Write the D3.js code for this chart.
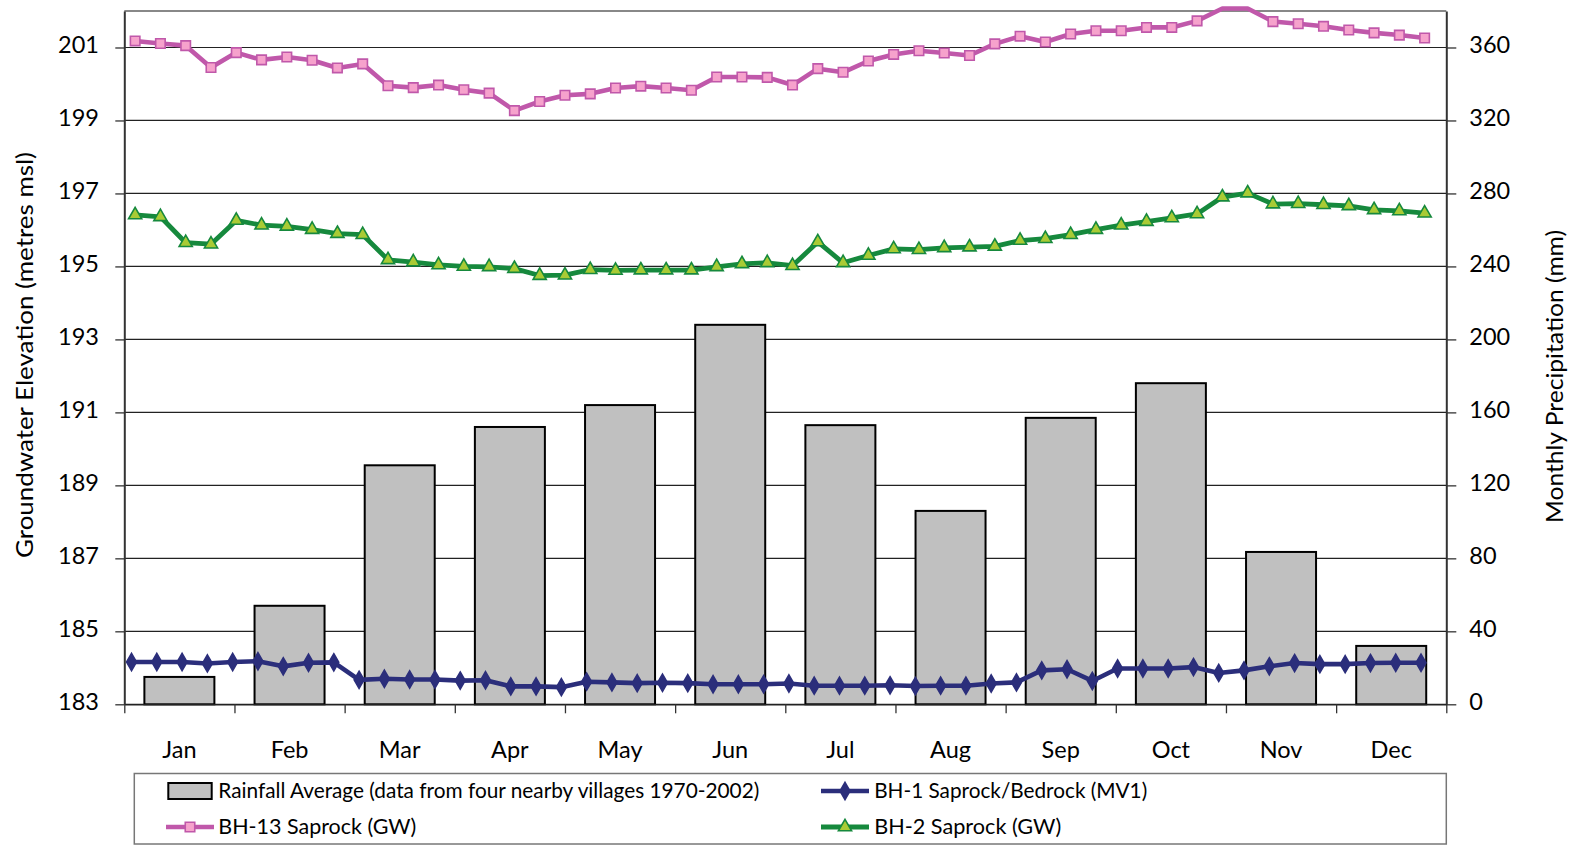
<!DOCTYPE html>
<html>
<head>
<meta charset="utf-8">
<script src="https://cdn.jsdelivr.net/npm/d3@7"></script>
<style>
  body { margin: 0; background: #fff; }
  svg { display: block; }
  text { font-family: Lato, "Open Sans", sans-serif; fill: #000; }
</style>
</head>
<body>
<svg id="chart" width="1585" height="849"></svg>
<script>
// ---- data -------------------------------------------------------------
const months = ["Jan", "Feb", "Mar", "Apr", "May", "Jun", "Jul", "Aug", "Sep", "Oct", "Nov", "Dec"];

// average monthly rainfall (mm), four nearby villages 1970-2002
const rainfall = [15, 54, 131, 152, 164, 208, 153, 106, 157, 176, 83.5, 32];

// weekly groundwater elevations (metres msl)
const bh1Level = [
  184.16, 184.16, 184.16, 184.12, 184.16, 184.18, 184.04, 184.14, 184.15, 183.67,
  183.70, 183.68, 183.68, 183.65, 183.66, 183.49, 183.49, 183.47, 183.62, 183.60,
  183.58, 183.59, 183.58, 183.55, 183.55, 183.55, 183.57, 183.51, 183.51, 183.51,
  183.52, 183.50, 183.51, 183.51, 183.57, 183.60, 183.93, 183.96, 183.64, 183.98,
  183.98, 183.98, 184.02, 183.86, 183.93, 184.04, 184.13, 184.10, 184.10, 184.13,
  184.14, 184.14
];
const bh13Level = [
  201.18, 201.11, 201.05, 200.45, 200.86, 200.66, 200.74, 200.65, 200.44, 200.55,
  199.95, 199.90, 199.97, 199.84, 199.75, 199.27, 199.52, 199.69, 199.73, 199.89,
  199.94, 199.89, 199.83, 200.19, 200.19, 200.18, 199.97, 200.42, 200.32, 200.63,
  200.81, 200.91, 200.85, 200.78, 201.10, 201.31, 201.15, 201.37, 201.46, 201.46,
  201.55, 201.55, 201.73, 202.30, 202.15, 201.71, 201.65, 201.58, 201.48, 201.40,
  201.34, 201.26
];
const bh2Level = [
  196.41, 196.36, 195.65, 195.61, 196.26, 196.13, 196.10, 196.01, 195.90, 195.87,
  195.18, 195.12, 195.04, 195.00, 194.99, 194.94, 194.75, 194.76, 194.91, 194.89,
  194.90, 194.90, 194.90, 194.99, 195.07, 195.10, 195.02, 195.67, 195.10, 195.30,
  195.48, 195.46, 195.51, 195.53, 195.55, 195.71, 195.76, 195.87, 196.01, 196.13,
  196.23, 196.33, 196.44, 196.90, 197.01, 196.71, 196.72, 196.69, 196.66, 196.55,
  196.52, 196.46
];

// first weekly reading of each well
const bh1Start = new Date(2004, 0, 3);
const gwStart = new Date(2004, 0, 4);

const levelTicks = [183, 185, 187, 189, 191, 193, 195, 197, 199, 201];
const rainTicks = [0, 40, 80, 120, 160, 200, 240, 280, 320, 360];

const labels = {
  rain: "Rainfall Average (data from four nearby villages 1970-2002)",
  bh1: "BH-1 Saprock/Bedrock (MV1)",
  bh13: "BH-13 Saprock (GW)",
  bh2: "BH-2 Saprock (GW)",
  yLeft: "Groundwater Elevation (metres msl)",
  yRight: "Monthly Precipitation (mm)"
};

// ---- layout & scales --------------------------------------------------
const plot = { left: 124.3, right: 1446.3, top: 11, bottom: 704.3 };
const svg = d3.select("#chart");

const xBand = d3.scaleBand().domain(months).range([plot.left, plot.right])
  .paddingInner(0.3646).paddingOuter(0.1823);
const xEdge = d3.scaleLinear().domain([0, months.length]).range([plot.left, plot.right]);
const xTime = d3.scaleTime().domain([new Date(2004, 0, 1), new Date(2005, 0, 1)])
  .range([plot.left, plot.right]);
const yLevel = d3.scaleLinear().domain([183, 202]).range([plot.bottom, plot.top]);
const yRain = d3.scaleLinear().domain([0, 380]).range([plot.bottom, plot.top]);

// ---- gridlines --------------------------------------------------------
svg.append("g").selectAll("line").data(levelTicks).join("line")
  .attr("x1", plot.left).attr("x2", plot.right)
  .attr("y1", d => yLevel(d)).attr("y2", d => yLevel(d))
  .attr("stroke", "#222").attr("stroke-width", 1.2);

// top edge of the plot area
svg.append("line")
  .attr("x1", plot.left).attr("x2", plot.right)
  .attr("y1", plot.top).attr("y2", plot.top)
  .attr("stroke", "#888").attr("stroke-width", 2);

// ---- rainfall bars ----------------------------------------------------
svg.append("g").selectAll("rect").data(rainfall).join("rect")
  .attr("x", (d, i) => xBand(months[i]))
  .attr("width", xBand.bandwidth())
  .attr("y", d => yRain(d))
  .attr("height", d => yRain(0) - yRain(d))
  .attr("fill", "#C0C0C0").attr("stroke", "#000").attr("stroke-width", 2);

// ---- axes -------------------------------------------------------------
function styleAxis(g, size) {
  g.attr("font-family", "Lato, 'Open Sans', sans-serif").attr("font-size", size);
  g.selectAll(".tick line").attr("stroke", "#333").attr("stroke-width", 1.3);
  g.selectAll("text").attr("fill", "#000");
}

const axLeft = svg.append("g").attr("transform", `translate(${plot.left},0)`)
  .call(d3.axisLeft(yLevel).tickValues(levelTicks).tickSize(9).tickSizeOuter(0)
    .tickPadding(16.3).tickFormat(d3.format("d")));
styleAxis(axLeft, 23.5);
axLeft.select(".domain").attr("stroke", "#333").attr("stroke-width", 2);
axLeft.selectAll("text").attr("dy", "0.2em");

const axRight = svg.append("g").attr("transform", `translate(${plot.right},0)`)
  .call(d3.axisRight(yRain).tickValues(rainTicks).tickSize(10).tickSizeOuter(0)
    .tickPadding(13).tickFormat(d3.format("d")));
styleAxis(axRight, 23.5);
axRight.select(".domain").attr("stroke", "#333").attr("stroke-width", 2);
axRight.selectAll("text").attr("dy", "0.2em");

const axEdges = svg.append("g").attr("transform", `translate(0,${plot.bottom})`)
  .call(d3.axisBottom(xEdge).tickValues(d3.range(months.length + 1)).tickSize(9)
    .tickSizeOuter(0).tickFormat(""));
styleAxis(axEdges, 23);
axEdges.select(".domain").attr("stroke", "#222").attr("stroke-width", 1.5);

const axMonths = svg.append("g").attr("transform", `translate(0,${plot.bottom})`)
  .call(d3.axisBottom(xBand).tickSize(0).tickPadding(37.1));
styleAxis(axMonths, 23.5);
axMonths.select(".domain").remove();

// ---- groundwater series -----------------------------------------------
const yTopLimit = plot.top - 2.5;
const yClamped = v => Math.max(yLevel(v), yTopLimit);

function series(values, start) {
  return values.map((v, i) => ({ date: d3.timeDay.offset(start, 7 * i), value: v }));
}

const wells = [
  { key: "bh13", data: series(bh13Level, gwStart), line: "#C058AA", fill: "#F6A2CC",
    symbol: d3.symbolSquare, size: 90, width: 4.6 },
  { key: "bh2", data: series(bh2Level, gwStart), line: "#16893D", fill: "#A9CB35",
    symbol: d3.symbolTriangle, size: 75, width: 4.8 },
  { key: "bh1", data: series(bh1Level, bh1Start), line: "#2B2E7B", fill: "#2B2E7B",
    symbol: d3.symbolDiamond, size: 85, width: 4.6 }
];

const lineGen = d3.line().x(d => xTime(d.date)).y(d => yClamped(d.value));

wells.forEach(w => {
  const g = svg.append("g").attr("class", "well-" + w.key);
  g.append("path").datum(w.data)
    .attr("d", lineGen)
    .attr("fill", "none").attr("stroke", w.line)
    .attr("stroke-width", w.width).attr("stroke-linejoin", "round");
  g.selectAll("path.marker").data(w.data.filter(d => d.value <= yLevel.domain()[1]))
    .join("path").attr("class", "marker")
    .attr("transform", d => `translate(${xTime(d.date)},${yLevel(d.value)})`)
    .attr("d", d3.symbol(w.symbol, w.size))
    .attr("fill", w.fill).attr("stroke", w.line).attr("stroke-width", 1.6);
});

// ---- axis titles ------------------------------------------------------
svg.append("text")
  .attr("transform", "translate(33,355) rotate(-90)")
  .attr("text-anchor", "middle").attr("font-size", 24)
  .attr("textLength", 406).attr("lengthAdjust", "spacingAndGlyphs")
  .text(labels.yLeft);

svg.append("text")
  .attr("transform", "translate(1563,376.5) rotate(-90)")
  .attr("text-anchor", "middle").attr("font-size", 24)
  .attr("textLength", 293).attr("lengthAdjust", "spacingAndGlyphs")
  .text(labels.yRight);

// ---- legend -----------------------------------------------------------
const legend = svg.append("g").attr("class", "legend");
legend.append("rect")
  .attr("x", 134.3).attr("y", 773.5).attr("width", plot.right - 134.3).attr("height", 70.5)
  .attr("fill", "#fff").attr("stroke", "#777").attr("stroke-width", 1.5);

const rows = [791, 827];
const cols = [166, 821];
const textX = [218.3, 874.2];

// bar swatch
legend.append("rect")
  .attr("x", 168.3).attr("y", rows[0] - 8).attr("width", 43.4).attr("height", 16)
  .attr("fill", "#C0C0C0").attr("stroke", "#000").attr("stroke-width", 2);

const legendItems = [
  { text: labels.rain, col: 0, row: 0, len: 541 },
  { text: labels.bh1, col: 1, row: 0, len: 273, well: wells[2] },
  { text: labels.bh13, col: 0, row: 1, len: 198, well: wells[0] },
  { text: labels.bh2, col: 1, row: 1, len: 187, well: wells[1] }
];

legendItems.forEach(it => {
  const cy = rows[it.row];
  if (it.well) {
    const x0 = cols[it.col], x1 = x0 + 48;
    legend.append("line")
      .attr("x1", x0).attr("x2", x1).attr("y1", cy).attr("y2", cy)
      .attr("stroke", it.well.line).attr("stroke-width", it.well.width);
    legend.append("path")
      .attr("transform", `translate(${(x0 + x1) / 2},${cy})`)
      .attr("d", d3.symbol(it.well.symbol, it.well.size))
      .attr("fill", it.well.fill).attr("stroke", it.well.line).attr("stroke-width", 1.6);
  }
  legend.append("text")
    .attr("x", textX[it.col]).attr("y", cy + 7)
    .attr("font-size", 21.5)
    .attr("textLength", it.len).attr("lengthAdjust", "spacingAndGlyphs")
    .text(it.text);
});
</script>
</body>
</html>
